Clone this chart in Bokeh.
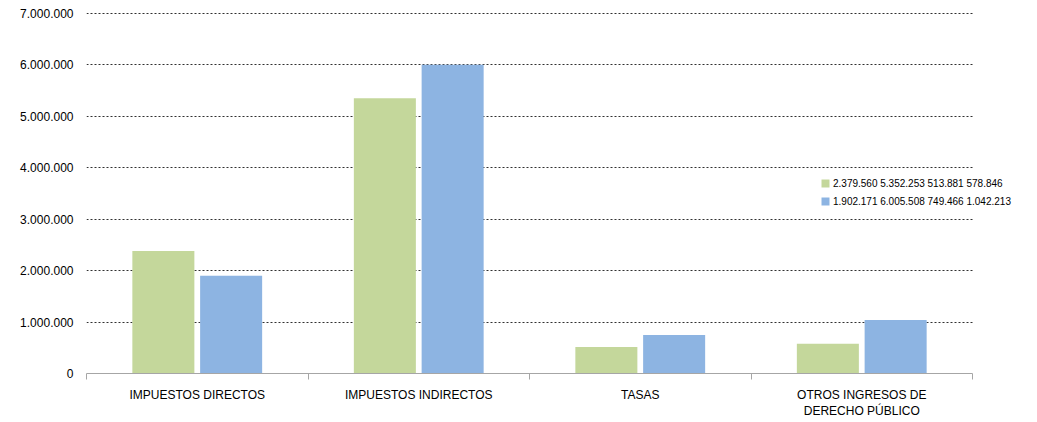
from bokeh.plotting import figure
from bokeh.models import (ColumnDataSource, Range1d, FixedTicker, Legend, LegendItem)
from bokeh.transform import dodge
from bokeh.embed import file_html
from bokeh.resources import INLINE

categories = ["IMPUESTOS DIRECTOS", "IMPUESTOS INDIRECTOS", "TASAS",
              "OTROS INGRESOS DE\nDERECHO PÚBLICO"]
serie_a = [2379560, 5352253, 513881, 578846]
serie_b = [1902171, 6005508, 749466, 1042213]
label_a = "2.379.560 5.352.253 513.881 578.846"
label_b = "1.902.171 6.005.508 749.466 1.042.213"
y_ticks = [0, 1000000, 2000000, 3000000, 4000000, 5000000, 6000000, 7000000]

FONT = "Liberation Sans"
GREEN = "#C4D79B"
BLUE = "#8DB4E2"

W, H = 1037, 422
LEFT, TOP, BOTTOM = 86, 11, 49
AXIS_PX = 886  # pixel length of the category axis
PLOT_PX = 360  # pixel height from 0 to the top tick
n = len(categories)
frame_w = W - LEFT
x_end = n * frame_w / AXIS_PX
y_top = y_ticks[-1]
y_end = y_top * (PLOT_PX + 2) / PLOT_PX  # 2px headroom so the top gridline shows

centers = [i + 0.5 for i in range(n)]
src = ColumnDataSource(dict(x=centers, a=serie_a, b=serie_b))

p = figure(width=W, height=H, output_backend="svg", toolbar_location=None,
           x_range=Range1d(0, x_end), y_range=Range1d(0, y_end),
           min_border_left=LEFT, min_border_right=0, min_border_top=TOP,
           min_border_bottom=BOTTOM)
p.outline_line_color = None
p.background_fill_color = "white"

ra = p.vbar(x=dodge("x", -0.153, range=p.x_range), top="a", width=0.28,
            source=src, fill_color=GREEN, line_color=None)
rb = p.vbar(x=dodge("x", 0.153, range=p.x_range), top="b", width=0.28,
            source=src, fill_color=BLUE, line_color=None)

# x axis
xa = p.xaxis[0]
xa.bounds = (0, n)
xa.ticker = FixedTicker(ticks=centers, minor_ticks=list(range(n + 1)))
xa.major_label_overrides = {c: lab for c, lab in zip(centers, categories)}
xa.major_tick_line_color = None
xa.major_tick_in = 0
xa.major_tick_out = 6
xa.minor_tick_in = 0
xa.minor_tick_out = 6
xa.minor_tick_line_color = "#A6A6A6"
xa.axis_line_color = "#A6A6A6"
xa.major_label_standoff = 8
xa.major_label_text_font = FONT
xa.major_label_text_font_size = "12px"
xa.major_label_text_color = "#000000"

# y axis
ya = p.yaxis[0]
ya.ticker = FixedTicker(ticks=y_ticks)
ya.major_label_overrides = {v: f"{v:,}".replace(",", ".") for v in y_ticks}
ya.axis_line_color = None
ya.major_tick_line_color = None
ya.major_tick_in = 0
ya.major_tick_out = 0
ya.minor_tick_line_color = None
ya.major_label_standoff = 13
ya.major_label_text_font = FONT
ya.major_label_text_font_size = "12px"
ya.major_label_text_color = "#000000"

p.xgrid.grid_line_color = None
yg = p.ygrid[0]
if "cross_bounds" in yg.properties():
    yg.ticker = FixedTicker(ticks=y_ticks[1:])
    yg.cross_bounds = (0, n)
    yg.grid_line_color = "#303030"
    yg.grid_line_dash = "2 2"
    yg.grid_line_width = 1
else:
    yg.grid_line_color = None
    gy = y_ticks[1:]
    p.segment(x0=[0] * len(gy), x1=[n] * len(gy), y0=gy, y1=gy,
              line_color="#303030", line_dash="2 2", line_width=1)

legend = Legend(items=[LegendItem(label=label_a, renderers=[ra]),
                       LegendItem(label=label_b, renderers=[rb])],
                location=(734, 165), padding=0, margin=0, spacing=4,
                glyph_width=10, glyph_height=10, label_height=14,
                label_standoff=3, label_text_font=FONT,
                label_text_font_size="10px", label_text_color="#000000",
                background_fill_alpha=0, border_line_color=None)
p.add_layout(legend, "center")

open("out.html", "w").write(file_html(p, INLINE))
